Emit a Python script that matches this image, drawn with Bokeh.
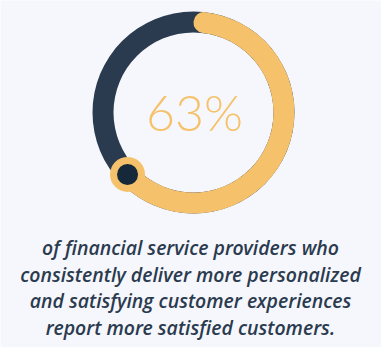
from bokeh.plotting import figure
from bokeh.models import Range1d
from bokeh.core.properties import value
from bokeh.embed import file_html
from bokeh.resources import INLINE
import math

# data
percent = 63
label = "63%"
caption_lines = [
    "of financial service providers who",
    "consistently deliver more personalized",
    "and satisfying customer experiences",
    "report more satisfied customers.",
]

W, H = 381, 347
BG = "#f6f7fc"
YELLOW = "#f5c26b"
DARK = "#2b3b4f"
DOT = "#15293a"

p = figure(width=W, height=H, output_backend="svg", toolbar_location=None,
           x_range=Range1d(0, W), y_range=Range1d(0, H), min_border=0)
p.axis.visible = False
p.grid.visible = False
p.outline_line_color = None
p.background_fill_color = BG
p.border_fill_color = BG

cx, cy = 193, H - 112
r_in, r_out = 80, 101
r_mid = (r_in + r_out) / 2
ring_w = r_out - r_in

# remaining part (dark ring)
p.annulus(x=[cx], y=[cy], inner_radius=r_in, outer_radius=r_out,
          fill_color=DARK, line_color=None)

# progress arc: starts at top, goes clockwise by percent
end_deg = 90 - 360 * percent / 100
cap_deg = math.degrees((ring_w / 2) / r_mid)
p.arc(x=[cx], y=[cy], radius=r_mid,
      start_angle=math.radians(end_deg), end_angle=math.radians(90 - cap_deg),
      direction="anticlock", line_color=YELLOW, line_width=ring_w, line_cap="round")

# end marker
mx = cx + r_mid * math.cos(math.radians(end_deg))
my = cy + r_mid * math.sin(math.radians(end_deg))
p.scatter(x=[mx], y=[my], size=35, marker="circle", fill_color=YELLOW, line_color=None)
p.scatter(x=[mx], y=[my], size=21, marker="circle", fill_color=DOT, line_color=None)

# centre label
p.text(x=[cx + 1], y=[H - 111.5], text=[label], text_align="center", text_baseline="middle",
       text_font=value("Lato Light"), text_font_size="50px", text_color=YELLOW)

# caption
ys = [H - 247 + i * -26.7 for i in range(len(caption_lines))]
p.text(x=[190] * len(caption_lines), y=ys, text=caption_lines, text_align="center",
       text_baseline="alphabetic", text_font=value("Open Sans SemiBold"), text_font_size="19.5px",
       text_font_style="italic", text_color=DARK)

open("out.html", "w").write(file_html(p, INLINE))
